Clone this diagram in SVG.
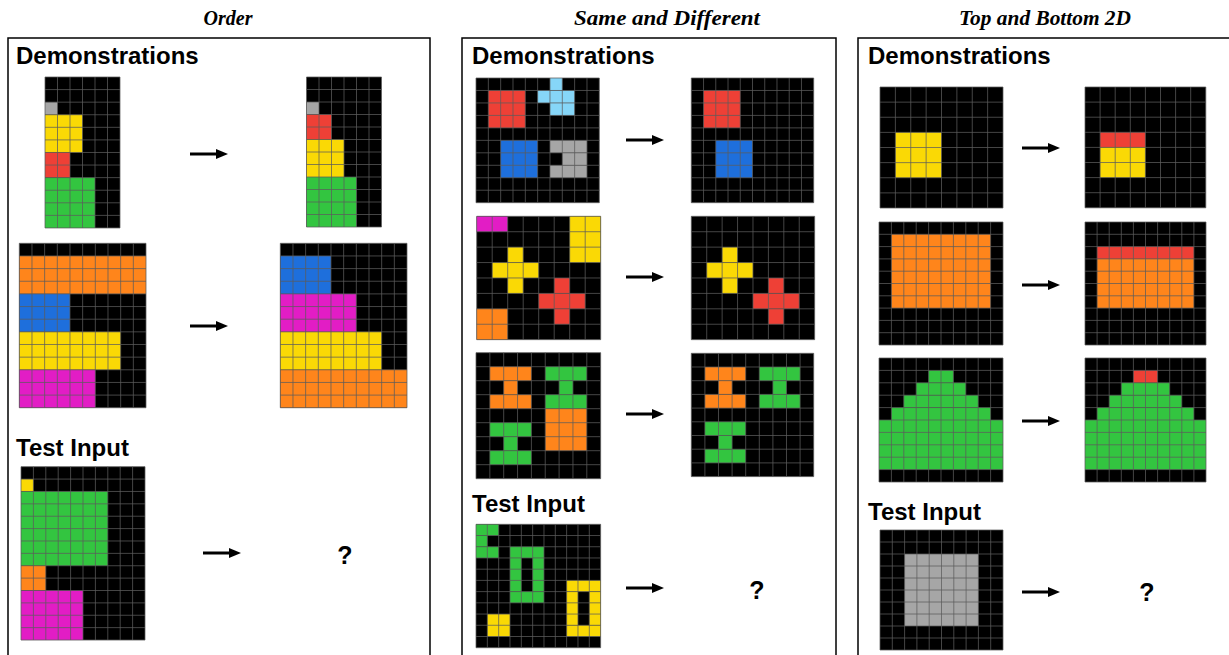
<svg xmlns="http://www.w3.org/2000/svg" xmlns:xlink="http://www.w3.org/1999/xlink" width="1229" height="655" viewBox="0 0 1229 655">
<style>
.k{fill:#000}.r{fill:#EE4036}.y{fill:#FAD905}.g{fill:#33C540}.o{fill:#FF851B}.b{fill:#1E6FDC}.m{fill:#E21DC5}.a{fill:#A6A6A6}.c{fill:#86D6F8}
.gl{fill:none;stroke:#5c5c5c;stroke-opacity:0.75;stroke-width:1;vector-effect:non-scaling-stroke}
.t{font-family:"Liberation Serif",serif;font-weight:bold;font-style:italic;font-size:20px;text-anchor:middle}
.h{font-family:"Liberation Sans",Arial,sans-serif;font-weight:bold;font-size:24px}
.q{font-family:"Liberation Sans",Arial,sans-serif;font-weight:bold;font-size:25px;text-anchor:middle}
.frame{fill:none;stroke:#000;stroke-width:1.5}
.ar{stroke:#000;stroke-width:3;marker-end:url(#ah)}
</style>
<defs>
<marker id="ah" markerUnits="userSpaceOnUse" markerWidth="12" markerHeight="10" refX="2" refY="5" orient="auto"><path d="M0 0L12 5L0 10z" fill="#000"/></marker>
<path id="l6x12" class="gl" d="M0 0V12M1 0V12M2 0V12M3 0V12M4 0V12M5 0V12M6 0V12M0 0H6M0 1H6M0 2H6M0 3H6M0 4H6M0 5H6M0 6H6M0 7H6M0 8H6M0 9H6M0 10H6M0 11H6M0 12H6"/>
<path id="l10x13" class="gl" d="M0 0V13M1 0V13M2 0V13M3 0V13M4 0V13M5 0V13M6 0V13M7 0V13M8 0V13M9 0V13M10 0V13M0 0H10M0 1H10M0 2H10M0 3H10M0 4H10M0 5H10M0 6H10M0 7H10M0 8H10M0 9H10M0 10H10M0 11H10M0 12H10M0 13H10"/>
<path id="l10x14" class="gl" d="M0 0V14M1 0V14M2 0V14M3 0V14M4 0V14M5 0V14M6 0V14M7 0V14M8 0V14M9 0V14M10 0V14M0 0H10M0 1H10M0 2H10M0 3H10M0 4H10M0 5H10M0 6H10M0 7H10M0 8H10M0 9H10M0 10H10M0 11H10M0 12H10M0 13H10M0 14H10"/>
<path id="l10x10" class="gl" d="M0 0V10M1 0V10M2 0V10M3 0V10M4 0V10M5 0V10M6 0V10M7 0V10M8 0V10M9 0V10M10 0V10M0 0H10M0 1H10M0 2H10M0 3H10M0 4H10M0 5H10M0 6H10M0 7H10M0 8H10M0 9H10M0 10H10"/>
<path id="l8x8" class="gl" d="M0 0V8M1 0V8M2 0V8M3 0V8M4 0V8M5 0V8M6 0V8M7 0V8M8 0V8M0 0H8M0 1H8M0 2H8M0 3H8M0 4H8M0 5H8M0 6H8M0 7H8M0 8H8"/>
<path id="l9x9" class="gl" d="M0 0V9M1 0V9M2 0V9M3 0V9M4 0V9M5 0V9M6 0V9M7 0V9M8 0V9M9 0V9M0 0H9M0 1H9M0 2H9M0 3H9M0 4H9M0 5H9M0 6H9M0 7H9M0 8H9M0 9H9"/>
<path id="l11x11" class="gl" d="M0 0V11M1 0V11M2 0V11M3 0V11M4 0V11M5 0V11M6 0V11M7 0V11M8 0V11M9 0V11M10 0V11M11 0V11M0 0H11M0 1H11M0 2H11M0 3H11M0 4H11M0 5H11M0 6H11M0 7H11M0 8H11M0 9H11M0 10H11M0 11H11"/>
</defs>
<rect width="1229" height="655" fill="#fff"/>

<g id="titles">
<text class="t" x="228" y="25">Order</text>
<text class="t" x="667" y="25" textLength="186" lengthAdjust="spacingAndGlyphs">Same and Different</text>
<text class="t" x="1045" y="25" textLength="172" lengthAdjust="spacingAndGlyphs">Top and Bottom 2D</text>
</g>

<g id="frames">
<rect class="frame" x="8" y="38" width="422" height="630"/>
<rect class="frame" x="462" y="38" width="374" height="630"/>
<rect class="frame" x="858" y="38" width="375" height="630"/>
</g>

<g id="labels">
<text class="h" x="16" y="64">Demonstrations</text>
<text class="h" x="472" y="64">Demonstrations</text>
<text class="h" x="868" y="64">Demonstrations</text>
<text class="h" x="16" y="456">Test Input</text>
<text class="h" x="472" y="512">Test Input</text>
<text class="h" x="868" y="520">Test Input</text>
<text class="q" x="345" y="564">?</text>
<text class="q" x="757" y="599">?</text>
<text class="q" x="1147" y="601">?</text>
</g>

<!-- Panel 1: Order -->
<g id="order-demo1-in" transform="translate(45 77) scale(12.5 12.58)">
<rect class="k" width="6" height="12"/>
<rect class="a" x="0" y="2" width="1" height="1"/>
<rect class="y" x="0" y="3" width="3" height="3"/>
<rect class="r" x="0" y="6" width="2" height="2"/>
<rect class="g" x="0" y="8" width="4" height="4"/>
<use href="#l6x12"/>
</g>
<g id="order-demo1-out" transform="translate(306.5 77) scale(12.5 12.5)">
<rect class="k" width="6" height="12"/>
<rect class="a" x="0" y="2" width="1" height="1"/>
<rect class="r" x="0" y="3" width="2" height="2"/>
<rect class="y" x="0" y="5" width="3" height="3"/>
<rect class="g" x="0" y="8" width="4" height="4"/>
<use href="#l6x12"/>
</g>
<g id="order-demo2-in" transform="translate(19.3 243.3) scale(12.67 12.65)">
<rect class="k" width="10" height="13"/>
<rect class="o" x="0" y="1" width="10" height="3"/>
<rect class="b" x="0" y="4" width="4" height="3"/>
<rect class="y" x="0" y="7" width="8" height="3"/>
<rect class="m" x="0" y="10" width="6" height="3"/>
<use href="#l10x13"/>
</g>
<g id="order-demo2-out" transform="translate(280.3 243.3) scale(12.67 12.65)">
<rect class="k" width="10" height="13"/>
<rect class="b" x="0" y="1" width="4" height="3"/>
<rect class="m" x="0" y="4" width="6" height="3"/>
<rect class="y" x="0" y="7" width="8" height="3"/>
<rect class="o" x="0" y="10" width="10" height="3"/>
<use href="#l10x13"/>
</g>
<g id="order-test-in" transform="translate(21 466.7) scale(12.4 12.38)">
<rect class="k" width="10" height="14"/>
<rect class="y" x="0" y="1" width="1" height="1"/>
<rect class="g" x="0" y="2" width="7" height="6"/>
<rect class="o" x="0" y="8" width="2" height="2"/>
<rect class="m" x="0" y="10" width="5" height="4"/>
<use href="#l10x14"/>
</g>

<!-- Panel 2: Same and Different -->
<g id="sd-demo1-in" transform="translate(476 78) scale(12.33 12.47)">
<rect class="k" width="10" height="10"/>
<rect class="r" x="1" y="1" width="3" height="3"/>
<rect class="c" x="6" y="0" width="1" height="1"/>
<rect class="c" x="5" y="1" width="3" height="1"/>
<rect class="c" x="6" y="2" width="2" height="1"/>
<rect class="b" x="2" y="5" width="3" height="3"/>
<rect class="a" x="6" y="5" width="3" height="1"/>
<rect class="a" x="7" y="6" width="2" height="1"/>
<rect class="a" x="6" y="7" width="3" height="1"/>
<use href="#l10x10"/>
</g>
<g id="sd-demo1-out" transform="translate(691.3 78) scale(12.24 12.47)">
<rect class="k" width="10" height="10"/>
<rect class="r" x="1" y="1" width="3" height="3"/>
<rect class="b" x="2" y="5" width="3" height="3"/>
<use href="#l10x10"/>
</g>
<g id="sd-demo2-in" transform="translate(476.7 216.3) scale(15.5 15.42)">
<rect class="k" width="8" height="8"/>
<rect class="m" x="0" y="0" width="2" height="1"/>
<rect class="y" x="6" y="0" width="2" height="3"/>
<rect class="y" x="2" y="2" width="1" height="1"/>
<rect class="y" x="1" y="3" width="3" height="1"/>
<rect class="y" x="2" y="4" width="1" height="1"/>
<rect class="r" x="5" y="4" width="1" height="1"/>
<rect class="r" x="4" y="5" width="3" height="1"/>
<rect class="r" x="5" y="6" width="1" height="1"/>
<rect class="o" x="0" y="6" width="2" height="2"/>
<use href="#l8x8"/>
</g>
<g id="sd-demo2-out" transform="translate(691.3 216.3) scale(15.42 15.42)">
<rect class="k" width="8" height="8"/>
<rect class="y" x="2" y="2" width="1" height="1"/>
<rect class="y" x="1" y="3" width="3" height="1"/>
<rect class="y" x="2" y="4" width="1" height="1"/>
<rect class="r" x="5" y="4" width="1" height="1"/>
<rect class="r" x="4" y="5" width="3" height="1"/>
<rect class="r" x="5" y="6" width="1" height="1"/>
<use href="#l8x8"/>
</g>
<g id="sd-demo3-in" transform="translate(476 352.7) scale(13.85 14)">
<rect class="k" width="9" height="9"/>
<rect class="o" x="1" y="1" width="3" height="1"/>
<rect class="o" x="2" y="2" width="1" height="1"/>
<rect class="o" x="1" y="3" width="3" height="1"/>
<rect class="g" x="5" y="1" width="3" height="1"/>
<rect class="g" x="6" y="2" width="1" height="1"/>
<rect class="g" x="5" y="3" width="3" height="1"/>
<rect class="o" x="5" y="4" width="3" height="3"/>
<rect class="g" x="1" y="5" width="3" height="1"/>
<rect class="g" x="2" y="6" width="1" height="1"/>
<rect class="g" x="1" y="7" width="3" height="1"/>
<use href="#l9x9"/>
</g>
<g id="sd-demo3-out" transform="translate(691.3 353.3) scale(13.6 13.7)">
<rect class="k" width="9" height="9"/>
<rect class="o" x="1" y="1" width="3" height="1"/>
<rect class="o" x="2" y="2" width="1" height="1"/>
<rect class="o" x="1" y="3" width="3" height="1"/>
<rect class="g" x="5" y="1" width="3" height="1"/>
<rect class="g" x="6" y="2" width="1" height="1"/>
<rect class="g" x="5" y="3" width="3" height="1"/>
<rect class="g" x="1" y="5" width="3" height="1"/>
<rect class="g" x="2" y="6" width="1" height="1"/>
<rect class="g" x="1" y="7" width="3" height="1"/>
<use href="#l9x9"/>
</g>
<g id="sd-test-in" transform="translate(476 524.3) scale(11.33 11.22)">
<rect class="k" width="11" height="11"/>
<rect class="g" x="0" y="0" width="2" height="1"/>
<rect class="g" x="0" y="1" width="1" height="1"/>
<rect class="g" x="0" y="2" width="2" height="1"/>
<rect class="g" x="3" y="2" width="3" height="1"/>
<rect class="g" x="3" y="3" width="1" height="3"/>
<rect class="g" x="5" y="3" width="1" height="3"/>
<rect class="g" x="3" y="6" width="3" height="1"/>
<rect class="y" x="8" y="5" width="3" height="1"/>
<rect class="y" x="8" y="6" width="1" height="3"/>
<rect class="y" x="10" y="6" width="1" height="3"/>
<rect class="y" x="8" y="9" width="3" height="1"/>
<rect class="y" x="1" y="8" width="2" height="2"/>
<use href="#l11x11"/>
</g>

<!-- Panel 3: Top and Bottom 2D -->
<g id="tb-demo1-in" transform="translate(880 87) scale(15.375 15.125)">
<rect class="k" width="8" height="8"/>
<rect class="y" x="1" y="3" width="3" height="3"/>
<use href="#l8x8"/>
</g>
<g id="tb-demo1-out" transform="translate(1085 87) scale(15.1 15.1)">
<rect class="k" width="8" height="8"/>
<rect class="r" x="1" y="3" width="3" height="1"/>
<rect class="y" x="1" y="4" width="3" height="2"/>
<use href="#l8x8"/>
</g>
<g id="tb-demo2-in" transform="translate(879 222) scale(12.4 12.3)">
<rect class="k" width="10" height="10"/>
<rect class="o" x="1" y="1" width="8" height="6"/>
<use href="#l10x10"/>
</g>
<g id="tb-demo2-out" transform="translate(1085 222) scale(12.1 12.3)">
<rect class="k" width="10" height="10"/>
<rect class="r" x="1" y="2" width="8" height="1"/>
<rect class="o" x="1" y="3" width="8" height="4"/>
<use href="#l10x10"/>
</g>
<g id="tb-demo3-in" transform="translate(879 358) scale(12.4 12.4)">
<rect class="k" width="10" height="10"/>
<rect class="g" x="4" y="1" width="2" height="1"/>
<rect class="g" x="3" y="2" width="4" height="1"/>
<rect class="g" x="2" y="3" width="6" height="1"/>
<rect class="g" x="1" y="4" width="8" height="1"/>
<rect class="g" x="0" y="5" width="10" height="4"/>
<use href="#l10x10"/>
</g>
<g id="tb-demo3-out" transform="translate(1085 358) scale(12.1 12.4)">
<rect class="k" width="10" height="10"/>
<rect class="r" x="4" y="1" width="2" height="1"/>
<rect class="g" x="3" y="2" width="4" height="1"/>
<rect class="g" x="2" y="3" width="6" height="1"/>
<rect class="g" x="1" y="4" width="8" height="1"/>
<rect class="g" x="0" y="5" width="10" height="4"/>
<use href="#l10x10"/>
</g>
<g id="tb-test-in" transform="translate(880 530) scale(12.3 12)">
<rect class="k" width="10" height="10"/>
<rect class="a" x="2" y="2" width="6" height="6"/>
<use href="#l10x10"/>
</g>

<g id="connectors">
<line class="ar" x1="190" y1="154" x2="218" y2="154"/>
<line class="ar" x1="190" y1="326" x2="218" y2="326"/>
<line class="ar" x1="203" y1="553" x2="231" y2="553"/>
<line class="ar" x1="626" y1="140" x2="654" y2="140"/>
<line class="ar" x1="626" y1="277" x2="654" y2="277"/>
<line class="ar" x1="626" y1="414" x2="654" y2="414"/>
<line class="ar" x1="626" y1="588" x2="654" y2="588"/>
<line class="ar" x1="1022" y1="148" x2="1050" y2="148"/>
<line class="ar" x1="1022" y1="285" x2="1050" y2="285"/>
<line class="ar" x1="1022" y1="421" x2="1050" y2="421"/>
<line class="ar" x1="1022" y1="592" x2="1050" y2="592"/>
</g>
</svg>
